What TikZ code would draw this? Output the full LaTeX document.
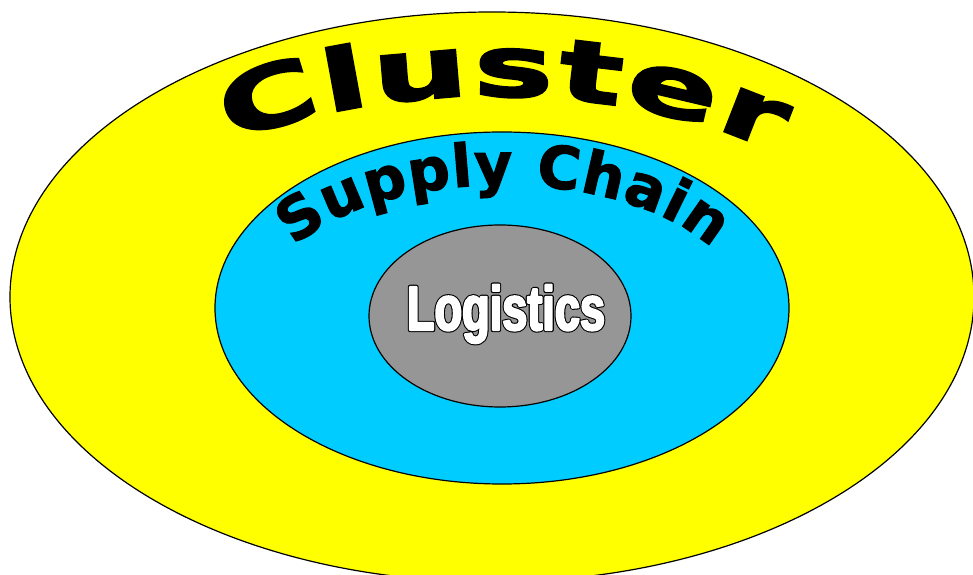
\documentclass[tikz,border=0pt]{standalone}
\usepackage{fontspec}
\usetikzlibrary{decorations.text}
\definecolor{clusteryellow}{RGB}{255,255,0}
\definecolor{chainblue}{RGB}{0,204,255}
\definecolor{logigray}{RGB}{150,150,150}
\newfontfamily\heavyfont[FakeBold=2]{DejaVu Sans Bold}
\newfontfamily\widefont[FakeBold=3,FakeStretch=1.6]{DejaVu Sans Bold}
\newfontfamily\narrowfont[FakeStretch=0.72]{Liberation Sans Bold}
\newcommand\clusterlook{\widefont\fontsize{63}{70}\selectfont}
\newcommand\chainlook{\heavyfont\fontsize{44}{50}\selectfont}
% fat white letters with a thin black rim
\newcommand\rimmed[1]{%
  \rlap{\special{pdf:literal direct 0 g 0 G 1 j 3.2 w 2 Tr}#1}%
  \special{pdf:literal direct 1 g 1 G 1 j 1.6 w 2 Tr}#1%
  \special{pdf:literal direct 0 Tr}}
\tikzstyle{ring}=[draw=black,line width=0.9pt]
\tikzstyle{arclabel}=[decorate,decoration={text along path,
  text align={fit to path}}]

\begin{document}
\begin{tikzpicture}[x=0.75pt,y=0.75pt]
  \useasboundingbox (0,0) rectangle (973,574);
  \clip (0,0) rectangle (973,574);
  \coordinate (cluster) at (492,277);
  \coordinate (chain) at (502,266);
  \coordinate (logi) at (500,258);
  % the three rings
  \draw[ring,fill=clusteryellow] (cluster) ellipse (482 and 285);
  \draw[ring,fill=chainblue] (chain) ellipse (287 and 176);
  \draw[ring,fill=logigray] (logi) ellipse (131 and 91);
  % arched titles
  \path[arclabel,decoration={text={|\clusterlook|Cluster}}]
    (cluster) ++(130:408 and 201)
    arc[start angle=130,end angle=46,x radius=408,y radius=201];
  \path[arclabel,decoration={text={|\chainlook|Supply Chain}}]
    (chain) ++(150:240 and 123)
    arc[start angle=150,end angle=29,x radius=240,y radius=123];
  \node[anchor=base,text=white,font=\narrowfont\fontsize{47}{54}\selectfont]
    (logistics) at (506,244) {\rimmed{Logistics}};
\end{tikzpicture}
\end{document}
